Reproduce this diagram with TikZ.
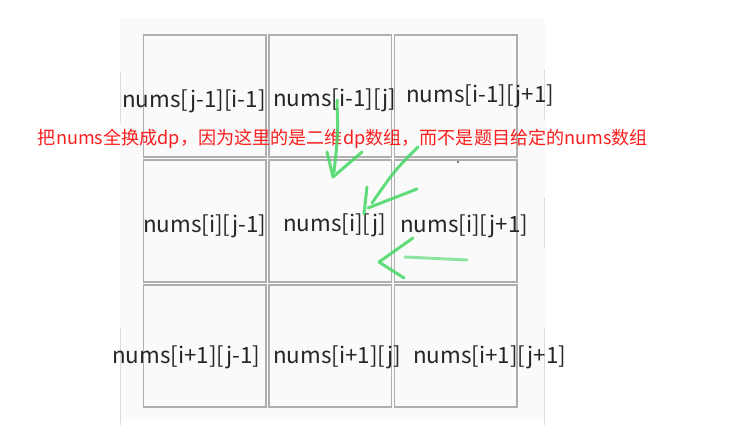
\documentclass[tikz,border=0pt]{standalone}
\usepackage{fontspec}
\setmainfont{Noto Sans CJK SC}
\usepackage{tikz}
\usetikzlibrary{positioning}
\definecolor{cellgray}{RGB}{175,175,175}
\definecolor{notered}{RGB}{250,30,30}
\definecolor{pengreen}{RGB}{70,215,100}
\definecolor{paperback}{RGB}{250,250,250}
\definecolor{edgegray}{RGB}{220,220,220}

\begin{document}
\begin{tikzpicture}[x=1pt, y=-1pt,
    cell/.style={draw=cellgray, line width=1.5pt, minimum width=122.5pt, minimum height=122pt, inner sep=0pt, outer sep=0pt},
    idx/.style={anchor=base west, inner sep=0pt, font=\fontsize{22.4}{23}\selectfont, text=black!85},
    pen/.style={draw=pengreen, line width=3pt, line cap=round, line join=round, opacity=0.85}]
  \useasboundingbox (0,0) rectangle (730,427);
  % scanned sheet behind the grid
  \fill[paperback] (120,18) rectangle (545,420);
  \draw[edgegray, line width=1pt] (120,72) -- (120,123) (120,328) -- (120,425);
  \draw[edgegray, line width=1pt] (544,70) -- (544,120) (544,198) -- (544,248) (544,328) -- (544,425);

  % the 3x3 cells
  \node[cell] (c11) at (204.5,96) {};
  \node[cell, right=3pt of c11] (c12) {};
  \node[cell, right=3pt of c12] (c13) {};
  \node[cell, below=3pt of c11] (c21) {};
  \node[cell, right=3pt of c21] (c22) {};
  \node[cell, right=3pt of c22] (c23) {};
  \node[cell, below=3pt of c21] (c31) {};
  \node[cell, right=3pt of c31] (c32) {};
  \node[cell, right=3pt of c32] (c33) {};

  % index labels
  \node[idx] (l11) at (122,108) {nums[j-1][i-1]};
  \node[idx] (l12) at (273,107) {nums[i-1][j]};
  \node[idx] (l13) at (406,103) {nums[i-1][j+1]};
  \node[idx] (l21) at (143,233) {nums[i][j-1]};
  \node[idx] (l22) at (283,232) {nums[i][j]};
  \node[idx] (l23) at (400,233) {nums[i][j+1]};
  \node[idx] (l31) at (112,363) {nums[i+1][j-1]};
  \node[idx] (l32) at (273,363) {nums[i+1][j]};
  \node[idx] (l33) at (413,363) {nums[i+1][j+1]};

  \node[font=\fontsize{18.1}{20}\selectfont, text=notered, inner sep=0pt] (note) at (343,139)
    {把nums全换成dp，因为这里的是二维dp数组，而不是题目给定的nums数组};

  % hand drawn arrows into c22
  \coordinate (tipA) at (333,177);
  \coordinate (tipB) at (364,214);
  \coordinate (tipC) at (379,262);
  \draw[pen] (337,100) .. controls (338,135) .. (334,172);
  \draw[pen] (327,152) -- (tipA) -- (362,152);
  \draw[pen] (418,147) .. controls (395,170) .. (372,203);
  \draw[pen] (367,187) -- (tipB);
  \draw[pen] (417,189) -- (368,208);
  \draw[pen, opacity=0.6] (467,260) -- (405,257);
  \draw[pen] (413,238) -- (tipC) -- (404,278);
  \fill (458,162) circle (0.8);
\end{tikzpicture}
\end{document}
